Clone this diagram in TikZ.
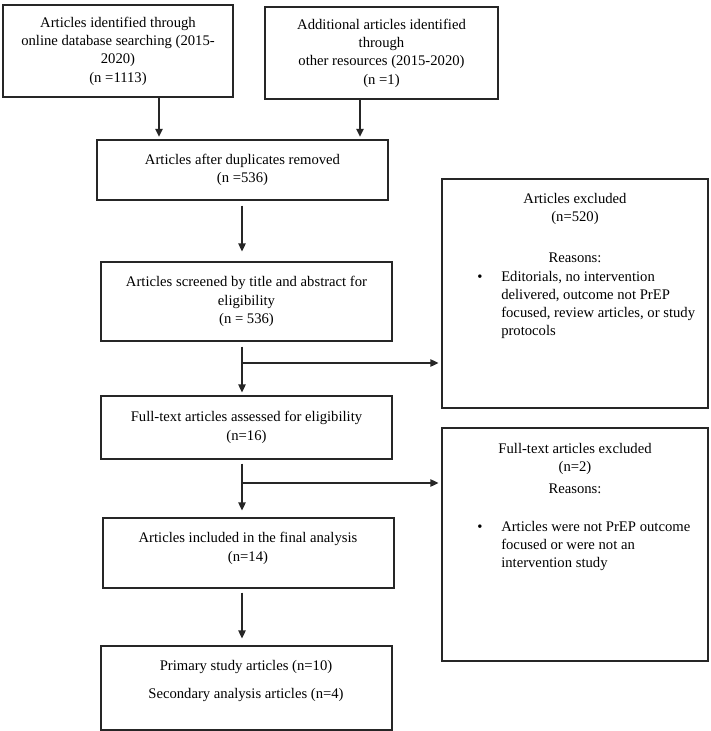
\documentclass[tikz,border=0pt]{standalone}
\usepackage{fontspec}
\setmainfont{Liberation Serif}
\usetikzlibrary{arrows.meta}
\begin{document}
\begin{tikzpicture}[x=0.75pt,y=-0.75pt,
  box/.style={draw=black!85, line width=0.8pt, inner sep=0pt, align=center, font=\fontsize{11}{13.7}\selectfont},
  txt/.style={inner sep=0pt, font=\fontsize{11}{13.7}\selectfont},
  arr/.style={draw=black!85, line width=1pt, -{Triangle[length=6pt,width=5.5pt]}}]
\useasboundingbox (0,0) rectangle (710,731);
\fill[white] (0,0) rectangle (710,731);

% boxes
\node[box, minimum width=172.5pt, minimum height=69pt] (a) at (118,51)
  {Articles identified through\\online database searching (2015-\\2020)\\(n =1113)};
\node[box, minimum width=174.75pt, minimum height=69pt] (b) at (381.5,53)
  {Additional articles identified\\through\\other resources (2015-2020)\\(n =1)};
\node[box, minimum width=218.25pt, minimum height=45pt] (c) at (242.5,170)
  {Articles after duplicates removed\\(n =536)};
\node[box, minimum width=218.25pt, minimum height=59.25pt] (d) at (246.5,301.5)
  {Articles screened by title and abstract for\\eligibility\\(n = 536)};
\node[box, minimum width=218.25pt, minimum height=47.25pt] (e) at (246.5,427.5)
  {Full-text articles assessed for eligibility\\(n=16)};
\node[box, minimum width=218.25pt, minimum height=52.5pt] (f) at (248.5,553) {};
\node[txt, anchor=base] (ft1) at (248,542) {Articles included in the final analysis};
\node[txt, anchor=base] (ft2) at (248,561) {(n=14)};
\node[box, minimum width=218.25pt, minimum height=63pt] (g) at (246.5,688) {};
\node[txt, anchor=base] (gt1) at (246,670) {Primary study articles (n=10)};
\node[txt, anchor=base] (gt2) at (246,698) {Secondary analysis articles (n=4)};

% excluded box 1
\node[box, minimum width=199.5pt, minimum height=171.75pt] (x1) at (575,293.5) {};
\node[txt, anchor=base] (x1a) at (575,203) {Articles excluded};
\node[txt, anchor=base] (x1b) at (575,221) {(n=520)};
\node[txt, anchor=base] (x1c) at (575,262) {Reasons:};
\node[txt, anchor=base] (x1d) at (480,281) {•};
\node[txt, anchor=base west] (x1e) at (501,281) {Editorials, no intervention};
\node[txt, anchor=base west] (x1f) at (501,299) {delivered, outcome not PrEP};
\node[txt, anchor=base west] (x1g) at (501,317) {focused, review articles, or study};
\node[txt, anchor=base west] (x1h) at (501,335) {protocols};

% excluded box 2
\node[box, minimum width=199.5pt, minimum height=174.75pt] (x2) at (575,544.5) {};
\node[txt, anchor=base] (x2a) at (575,453) {Full-text articles excluded};
\node[txt, anchor=base] (x2b) at (575,471) {(n=2)};
\node[txt, anchor=base] (x2c) at (575,493) {Reasons:};
\node[txt, anchor=base] (x2d) at (480,531) {•};
\node[txt, anchor=base west] (x2e) at (501,531) {Articles were not PrEP outcome};
\node[txt, anchor=base west] (x2f) at (501,549) {focused or were not an};
\node[txt, anchor=base west] (x2g) at (501,567) {intervention study};

% connector columns
\coordinate (xa) at (159,0);
\coordinate (xb) at (360,0);
\coordinate (xm) at (242,0);
\coordinate (j1) at (242,363);
\coordinate (j2) at (242,483);

\draw[arr, shorten >=2pt] (a.south -| xa) -- (c.north -| xa);
\draw[arr, shorten >=2pt] (b.south -| xb) -- (c.north -| xb);
\draw[arr, shorten <=3.75pt, shorten >=7.5pt] (c.south -| xm) -- (d.north -| xm);
\draw[arr, shorten <=3.75pt, shorten >=2.25pt] (d.south -| xm) -- (e.north -| xm);
\draw[arr, shorten >=2.25pt] (j1) -- (j1 -| x1.west);
\draw[arr, shorten <=3pt, shorten >=5.25pt] (e.south -| xm) -- (f.north -| xm);
\draw[arr, shorten >=2.25pt] (j2) -- (j2 -| x2.west);
\draw[arr, shorten <=3pt, shorten >=5.25pt] (f.south -| xm) -- (g.north -| xm);
\end{tikzpicture}
\end{document}
